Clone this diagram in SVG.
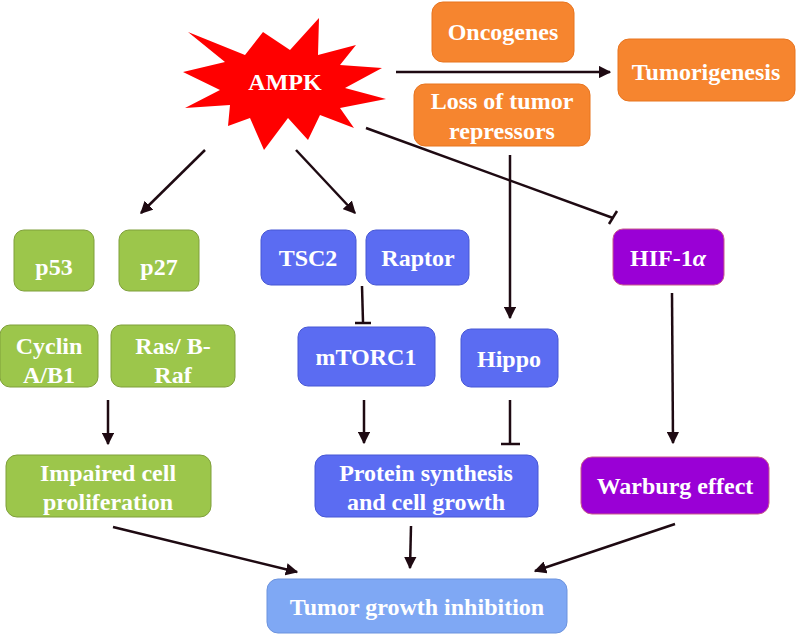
<svg xmlns="http://www.w3.org/2000/svg" width="796" height="634" viewBox="0 0 796 634">
<defs>
<marker id="arr" viewBox="0 0 10 10" refX="9" refY="5" markerWidth="5" markerHeight="5" orient="auto" markerUnits="strokeWidth"><path d="M0,0 L10,5 L0,10 z" fill="#1e0a12"/></marker>
<style>
.t{font-family:"Liberation Serif","Times New Roman",serif;font-weight:bold;fill:#fff;text-anchor:middle;font-size:24px}
.or{fill:#F6852F;stroke:#E8741F;stroke-width:1}
.gr{fill:#9CC64B;stroke:#7F9F3A;stroke-width:1}
.bl{fill:#5B6CF2;stroke:#4656D4;stroke-width:1}
.pu{fill:#9A00D6;stroke:#C85A8A;stroke-width:1}
.lb{fill:#7FA8F4;stroke:#6C93DE;stroke-width:1}
.c{stroke:#1e0a12;stroke-width:2.5;fill:none}
</style>
</defs>
<rect width="796" height="634" fill="#fff"/>
<g id="connectors">
<line class="c" x1="396" y1="72" x2="610" y2="72" marker-end="url(#arr)"/>
<line class="c" x1="366" y1="128" x2="613" y2="218"/>
<line class="c" x1="609" y1="224" x2="617" y2="211"/>
<line class="c" x1="205" y1="150" x2="141" y2="213" marker-end="url(#arr)"/>
<line class="c" x1="296" y1="150" x2="355" y2="213" marker-end="url(#arr)"/>
<line class="c" x1="510" y1="155" x2="510" y2="318" marker-end="url(#arr)"/>
<line class="c" x1="362" y1="286" x2="363" y2="322"/>
<line class="c" x1="355" y1="323" x2="371" y2="323"/>
<line class="c" x1="672" y1="293" x2="673" y2="443" marker-end="url(#arr)"/>
<line class="c" x1="108" y1="400" x2="108" y2="444" marker-end="url(#arr)"/>
<line class="c" x1="364" y1="400" x2="364" y2="443" marker-end="url(#arr)"/>
<line class="c" x1="510" y1="400" x2="510" y2="444"/>
<line class="c" x1="501" y1="444" x2="520" y2="444"/>
<line class="c" x1="113" y1="527" x2="297" y2="572" marker-end="url(#arr)"/>
<line class="c" x1="411" y1="526" x2="410" y2="568" marker-end="url(#arr)"/>
<line class="c" x1="675" y1="524" x2="535" y2="571" marker-end="url(#arr)"/>
</g>
<g id="ampk">
<polygon fill="#FF0000" points="183,72 225,62 188,32 245,55 263,32 290,50 319,18 318,55 356,45 340,65 382,68 345,88 386,99 340,108 354,128 320,115 308,140 288,118 264,150 250,118 228,126 230,105 185,108 220,90"/>
<text class="t" x="285" y="90" font-size="26">AMPK</text>
</g>
<g id="oncogenes"><rect class="or" x="432" y="2" width="142" height="60" rx="11"/><text class="t" x="503" y="40">Oncogenes</text></g>
<g id="loss"><rect class="or" x="414" y="84" width="176" height="62" rx="11"/><text class="t" x="502" y="109">Loss of tumor</text><text class="t" x="502" y="139">repressors</text></g>
<g id="tumorigenesis"><rect class="or" x="618" y="39" width="177" height="62" rx="11"/><text class="t" x="706" y="80">Tumorigenesis</text></g>
<g id="p53"><rect class="gr" x="14" y="230" width="80" height="61" rx="10"/><text class="t" x="54" y="275">p53</text></g>
<g id="p27"><rect class="gr" x="119" y="230" width="80" height="61" rx="10"/><text class="t" x="159" y="275">p27</text></g>
<g id="cyclin"><rect class="gr" x="0" y="325" width="98" height="62" rx="10"/><text class="t" x="49" y="354">Cyclin</text><text class="t" x="49" y="383">A/B1</text></g>
<g id="ras"><rect class="gr" x="111" y="325" width="124" height="62" rx="10"/><text class="t" x="173" y="354">Ras/ B-</text><text class="t" x="173" y="383">Raf</text></g>
<g id="tsc2"><rect class="bl" x="261" y="230" width="95" height="55" rx="10"/><text class="t" x="308" y="266">TSC2</text></g>
<g id="raptor"><rect class="bl" x="366" y="230" width="103" height="55" rx="10"/><text class="t" x="418" y="266">Raptor</text></g>
<g id="mtorc1"><rect class="bl" x="298" y="327" width="137" height="59" rx="10"/><text class="t" x="366" y="365">mTORC1</text></g>
<g id="hippo"><rect class="bl" x="461" y="329" width="97" height="58" rx="10"/><text class="t" x="509" y="367">Hippo</text></g>
<g id="hif"><rect class="pu" x="613" y="229" width="111" height="56" rx="10"/><text class="t" x="668" y="266">HIF-1<tspan font-style="italic">α</tspan></text></g>
<g id="impaired"><rect class="gr" x="6" y="455" width="205" height="62" rx="11"/><text class="t" x="108" y="481" font-size="25">Impaired cell</text><text class="t" x="108" y="510" font-size="25">proliferation</text></g>
<g id="protein"><rect class="bl" x="315" y="455" width="223" height="62" rx="11"/><text class="t" x="426" y="481" font-size="25">Protein synthesis</text><text class="t" x="426" y="510" font-size="25">and cell growth</text></g>
<g id="warburg"><rect class="pu" x="581" y="457" width="188" height="57" rx="11"/><text class="t" x="675" y="494" font-size="25">Warburg effect</text></g>
<g id="tgi"><rect class="lb" x="267" y="579" width="300" height="54" rx="11"/><text class="t" x="417" y="615" font-size="25">Tumor growth inhibition</text></g>
</svg>
